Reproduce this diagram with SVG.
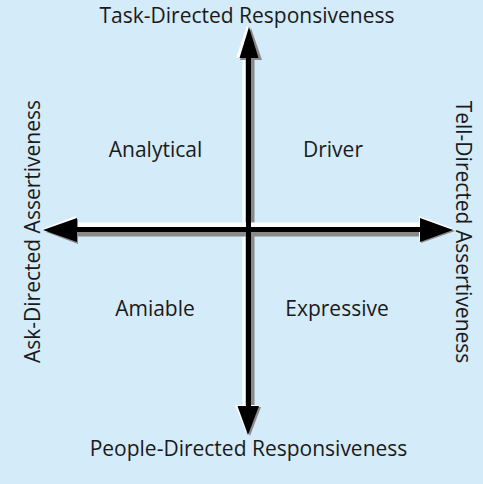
<svg xmlns="http://www.w3.org/2000/svg" width="483" height="484" viewBox="0 0 483 484">
<style>
text{font-family:"Open Sans","Noto Sans","Liberation Sans",sans-serif;font-size:21px;fill:#1a1a1a}
.hl{stroke:#ffffff;stroke-width:9;fill:none}
.sh{stroke:#8a8a8a;stroke-width:9;fill:none}
.ax{stroke:#000;stroke-width:5;fill:none}
.hd{fill:#000}
.hdw{fill:#fff}
.hds{fill:#8a8a8a}
</style>
<rect width="483" height="484" fill="#d4ebf9"/>
<g id="connectors">
<g id="axis-vertical">
<line class="hl" x1="247" y1="50" x2="247" y2="410"/>
<line class="sh" x1="250" y1="50" x2="250" y2="410"/>
<polygon class="hdw" points="247,25 236,58 259,58"/>
<polygon class="hds" points="251,28 240,60 262,60"/>
<polygon class="hdw" points="246,432 235,405 258,405"/>
<polygon class="hds" points="250,436 238,407 261,407"/>
</g>
<g id="axis-horizontal">
<line class="hl" x1="70" y1="227" x2="430" y2="227"/>
<line class="sh" x1="70" y1="232" x2="430" y2="232"/>
<polygon class="hdw" points="42,229 76,216 76,241"/>
<polygon class="hds" points="46,232 78,219 78,244"/>
<polygon class="hdw" points="452,228 419,216 419,240"/>
<polygon class="hds" points="455,231 421,219 421,243"/>
</g>
<line class="ax" x1="248.5" y1="50" x2="248.5" y2="412"/>
<line class="ax" x1="70" y1="229.5" x2="430" y2="229.5"/>
<polygon class="hd" points="249,27 239.5,58 258.5,58"/>
<polygon class="hd" points="248,435 237.5,406 259,406"/>
<polygon class="hd" points="43,230 77,218 77,242"/>
<polygon class="hd" points="453,230 420,218 420,242"/>
</g>
<g id="label-top"><text x="247" y="23" text-anchor="middle">Task-Directed Responsiveness</text></g>
<g id="label-bottom"><text x="248.5" y="456" text-anchor="middle">People-Directed Responsiveness</text></g>
<g id="label-left"><text transform="translate(40,231.5) rotate(-90)" text-anchor="middle">Ask-Directed Assertiveness</text></g>
<g id="label-right"><text transform="translate(456,232) rotate(90)" text-anchor="middle">Tell-Directed Assertiveness</text></g>
<g id="node-analytical"><text x="155.5" y="157" text-anchor="middle">Analytical</text></g>
<g id="node-driver"><text x="333" y="157" text-anchor="middle">Driver</text></g>
<g id="node-amiable"><text x="155" y="316" text-anchor="middle">Amiable</text></g>
<g id="node-expressive"><text x="337" y="316" text-anchor="middle">Expressive</text></g>
</svg>
